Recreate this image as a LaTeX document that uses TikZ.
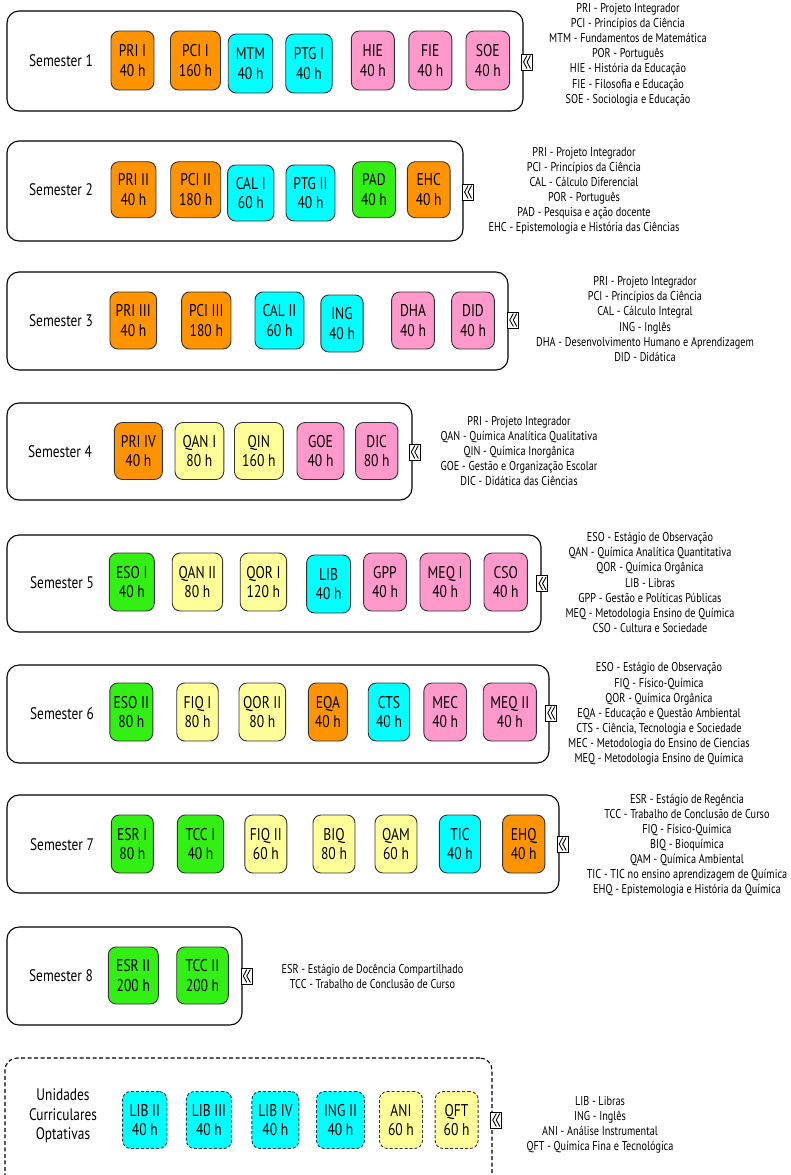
\documentclass[tikz,border=0pt]{standalone}
\usepackage{fontspec}
\setmainfont{PT Sans}[FakeStretch=0.8]
\definecolor{corange}{RGB}{255,147,0}
\definecolor{ccyan}{RGB}{0,255,255}
\definecolor{cpink}{RGB}{255,153,204}
\definecolor{cgreen}{RGB}{51,240,20}
\definecolor{cyellow}{RGB}{255,255,153}
\tikzset{
  semb/.style={draw=black, line width=1.1pt, rounded corners=12pt, fill=white, inner sep=0pt},
  optb/.style={semb, dash pattern=on 4pt off 2.5pt},
  crs/.style={draw=black!80, line width=0.9pt, rounded corners=8pt, align=center,
    font=\fontsize{17}{19.5}\selectfont, inner sep=0pt},
  dcrs/.style={crs, dash pattern=on 3pt off 2pt},
  org/.style={fill=corange}, cya/.style={fill=ccyan}, pnk/.style={fill=cpink},
  grn/.style={fill=cgreen}, ylw/.style={fill=cyellow},
  lbl/.style={align=center, font=\fontsize{16.7}{19.5}\selectfont, inner sep=0pt},
  leg/.style={align=center, font=\fontsize{12.8}{15.1}\selectfont, inner sep=0pt},
  icon/.style={draw, line width=0.7pt, fill=white, minimum width=11pt, minimum height=16pt, inner sep=0pt,
    path picture={
      \draw[line width=0.9pt] ([shift={(0.3,-6.5)}]path picture bounding box.center) -- ++(-3.5,6.5) -- ++(3.5,6.5);
      \draw[line width=0.9pt] ([shift={(3.8,-6.5)}]path picture bounding box.center) -- ++(-3.5,6.5) -- ++(3.5,6.5);
    }},
}
\newcommand\crsnode[7]{\node[#2,minimum width=#5,minimum height=#6] (#1) at (#3,#4) {#7};}
\begin{document}
\begin{tikzpicture}[x=1pt,y=-1pt]
\useasboundingbox (0,0) rectangle (791,1175);
% ---------- Semester 1
\node[semb,minimum width=516,minimum height=100] (s1) at (265,61) {};
\node[lbl] (l1) at (61,61) {Semester 1};
\crsnode{pri1}{crs,org}{132.5}{60.5}{43}{59}{PRI I\\40 h}
\crsnode{pci1}{crs,org}{195.5}{60.5}{50}{59}{PCI I\\160 h}
\crsnode{mtm}{crs,cya}{250.5}{63.5}{44.5}{59}{MTM\\40 h}
\crsnode{ptg1}{crs,cya}{309}{63.5}{46.5}{59}{PTG I\\40 h}
\crsnode{hie}{crs,pnk}{372.8}{60.5}{43}{59}{HIE\\40 h}
\crsnode{fie}{crs,pnk}{430.3}{60.5}{43}{59}{FIE\\40 h}
\crsnode{soe}{crs,pnk}{487.8}{60.5}{43.7}{59}{SOE\\40 h}
\node[icon] (i1) at (526.7,62) {};
\node[leg] (g1) at (628,54.7) {PRI - Projeto Integrador\\PCI - Princípios da Ciência\\MTM - Fundamentos de Matemática\\POR - Português\\HIE - História da Educação\\FIE - Filosofia e Educação\\SOE - Sociologia e Educação};
% ---------- Semester 2
\node[semb,minimum width=456,minimum height=100] (s2) at (235,191) {};
\node[lbl] (l2) at (61,190) {Semester 2};
\crsnode{pri2}{crs,org}{133.5}{189.7}{45}{56}{PRI II\\40 h}
\crsnode{pci2}{crs,org}{195.7}{189.7}{50}{56}{PCI II\\180 h}
\crsnode{cal1}{crs,cya}{250.8}{193}{46.3}{56}{CAL I\\60 h}
\crsnode{ptg2}{crs,cya}{310.5}{193}{49}{56}{PTG II\\40 h}
\crsnode{pad}{crs,grn}{374}{189.7}{43}{56}{PAD\\40 h}
\crsnode{ehc}{crs,org}{428.7}{189.7}{42.7}{56}{EHC\\40 h}
\node[icon] (i2) at (467.8,192) {};
\node[leg] (g2) at (584,190.8) {PRI - Projeto Integrador\\PCI - Princípios da Ciência\\CAL - Cálculo Diferencial\\POR - Português\\PAD - Pesquisa e ação docente\\EHC - Epistemologia e História das Ciências};
% ---------- Semester 3
\node[semb,minimum width=501,minimum height=98] (s3) at (257.5,321) {};
\node[lbl] (l3) at (61,321) {Semester 3};
\crsnode{pri3}{crs,org}{133.3}{320.5}{46.7}{57}{PRI III\\40 h}
\crsnode{pci3}{crs,org}{206.3}{320.5}{49.3}{57}{PCI III\\180 h}
\crsnode{cal2}{crs,cya}{279.5}{320.5}{49}{57}{CAL II\\60 h}
\crsnode{ing}{crs,cya}{342}{323.5}{42.3}{57}{ING\\40 h}
\crsnode{dha}{crs,pnk}{413}{320.5}{42.7}{57}{DHA\\40 h}
\crsnode{did}{crs,pnk}{473}{320.5}{42.7}{57}{DID\\40 h}
\node[icon] (i3) at (513,320) {};
\node[leg] (g3) at (645,319) {PRI - Projeto Integrador\\PCI - Princípios da Ciência\\CAL - Cálculo Integral\\ING - Inglês\\DHA - Desenvolvimento Humano e Aprendizagem\\DID - Didática};
% ---------- Semester 4
\node[semb,minimum width=405,minimum height=97] (s4) at (209.5,451.5) {};
\node[lbl] (l4) at (60,452) {Semester 4};
\crsnode{pri4}{crs,org}{138.4}{451}{48}{57}{PRI IV\\40 h}
\crsnode{qan1}{crs,ylw}{199.4}{451}{48.8}{57}{QAN I\\80 h}
\crsnode{qin}{crs,ylw}{258.9}{451}{48.9}{57}{QIN\\160 h}
\crsnode{goe}{crs,pnk}{320.5}{451}{47}{57}{GOE\\40 h}
\crsnode{dic}{crs,pnk}{376.7}{451}{42.3}{57}{DIC\\80 h}
\node[icon] (i4) at (414.5,452) {};
\node[leg] (g4) at (519,451) {PRI - Projeto Integrador\\QAN - Química Analítica Qualitativa\\QIN - Química Inorgânica\\GOE - Gestão e Organização Escolar\\DIC - Didática das Ciências};
% ---------- Semester 5
\node[semb,minimum width=534,minimum height=97] (s5) at (274,583.5) {};
\node[lbl] (l5) at (62,583) {Semester 5};
\crsnode{eso1}{crs,grn}{131.8}{582}{45}{58}{ESO I\\40 h}
\crsnode{qan2}{crs,ylw}{197.4}{582}{50.4}{58}{QAN II\\80 h}
\crsnode{qor1}{crs,ylw}{263.4}{582}{46.4}{58}{QOR I\\120 h}
\crsnode{lib}{crs,cya}{328.6}{584}{44}{58}{LIB\\40 h}
\crsnode{gpp}{crs,pnk}{385}{582}{42.8}{58}{GPP\\40 h}
\crsnode{meq1}{crs,pnk}{445.2}{582}{50.4}{58}{MEQ I\\40 h}
\crsnode{cso}{crs,pnk}{505.7}{582}{43.4}{58}{CSO\\40 h}
\node[icon] (i5) at (542.3,583.5) {};
\node[leg] (g5) at (650,582.5) {ESO - Estágio de Observação\\QAN - Química Analítica Quantitativa\\QOR - Química Orgânica\\LIB - Libras\\GPP - Gestão e Políticas Públicas\\MEQ - Metodologia Ensino de Química\\CSO - Cultura e Sociedade};
% ---------- Semester 6
\node[semb,minimum width=542,minimum height=98] (s6) at (278,714) {};
\node[lbl] (l6) at (62,714) {Semester 6};
\crsnode{eso2}{crs,grn}{131.3}{712}{43}{58}{ESO II\\80 h}
\crsnode{fiq1}{crs,ylw}{197.5}{712}{41.5}{58}{FIQ I\\80 h}
\crsnode{qor2}{crs,ylw}{262.3}{712}{46.6}{58}{QOR II\\80 h}
\crsnode{eqa}{crs,org}{327.9}{712}{39}{58}{EQA\\40 h}
\crsnode{cts}{crs,cya}{389}{712}{41.5}{58}{CTS\\40 h}
\crsnode{mec}{crs,pnk}{445.2}{712}{42.6}{58}{MEC\\40 h}
\crsnode{meq2}{crs,pnk}{509.8}{712}{53.2}{58}{MEQ II\\40 h}
\node[icon] (i6) at (551,713) {};
\node[leg] (g6) at (659,714) {ESO - Estágio de Observação\\FIQ - Físico-Química\\QOR - Química Orgânica\\EQA - Educação e Questão Ambiental\\CTS - Ciência, Tecnologia e Sociedade\\MEC - Metodologia do Ensino de Ciencias\\MEQ - Metodologia Ensino de Química};
% ---------- Semester 7
\node[semb,minimum width=552,minimum height=98] (s7) at (283,844) {};
\node[lbl] (l7) at (62,845) {Semester 7};
\crsnode{esr1}{crs,grn}{132.3}{844}{42}{58}{ESR I\\80 h}
\crsnode{tcc1}{crs,grn}{200.5}{844}{46.3}{58}{TCC I\\40 h}
\crsnode{fiq2}{crs,ylw}{265.8}{844}{42}{58}{FIQ II\\60 h}
\crsnode{biq}{crs,ylw}{334}{844}{42}{58}{BIQ\\80 h}
\crsnode{qam}{crs,ylw}{396}{844}{42}{58}{QAM\\60 h}
\crsnode{tic}{crs,cya}{460}{844}{41.3}{58}{TIC\\40 h}
\crsnode{ehq}{crs,org}{523.7}{844}{42.3}{58}{EHQ\\40 h}
\node[icon] (i7) at (562.4,844) {};
\node[leg] (g7) at (687,845) {ESR - Estágio de Regência\\TCC - Trabalho de Conclusão de Curso\\FIQ -  Físico-Química\\BIQ - Bioquímica\\QAM - Química Ambiental\\TIC - TIC no ensino aprendizagem de Química\\EHQ - Epistemologia e História da Química};
% ---------- Semester 8
\node[semb,minimum width=235,minimum height=98] (s8) at (124.5,976) {};
\node[lbl] (l8) at (61,976) {Semester 8};
\crsnode{esr2}{crs,grn}{133.3}{975.5}{50}{57}{ESR II\\200 h}
\crsnode{tcc2}{crs,grn}{202.5}{975.5}{51.6}{57}{TCC II\\200 h}
\node[icon] (i8) at (246.5,976) {};
\node[leg] (g8) at (372.5,976.3) {ESR - Estágio de Docência Compartilhado\\TCC - Trabalho de Conclusão de Curso};
% ---------- Optativas
\node[optb,minimum width=487,minimum height=150] (s9) at (248.5,1133) {};
\node[lbl] (l9) at (63,1116) {Unidades\\Curriculares\\Optativas};
\crsnode{lib2}{dcrs,cya}{144.8}{1120}{44.4}{57}{LIB II\\40 h}
\crsnode{lib3}{dcrs,cya}{209}{1120}{45.4}{57}{LIB III\\40 h}
\crsnode{lib4}{dcrs,cya}{275.4}{1120}{47}{57}{LIB IV\\40 h}
\crsnode{ing2}{dcrs,cya}{340.5}{1120}{48}{57}{ING II\\40 h}
\crsnode{ani}{dcrs,ylw}{401}{1120}{43}{57}{ANI\\60 h}
\crsnode{qft}{dcrs,ylw}{456.6}{1120}{43}{57}{QFT\\60 h}
\node[icon] (i9) at (496,1120) {};
\node[leg] (g9) at (600,1125) {LIB - Libras\\ING - Inglês\\ANI - Análise Instrumental\\QFT - Química Fina e Tecnológica};
\end{tikzpicture}
\end{document}
